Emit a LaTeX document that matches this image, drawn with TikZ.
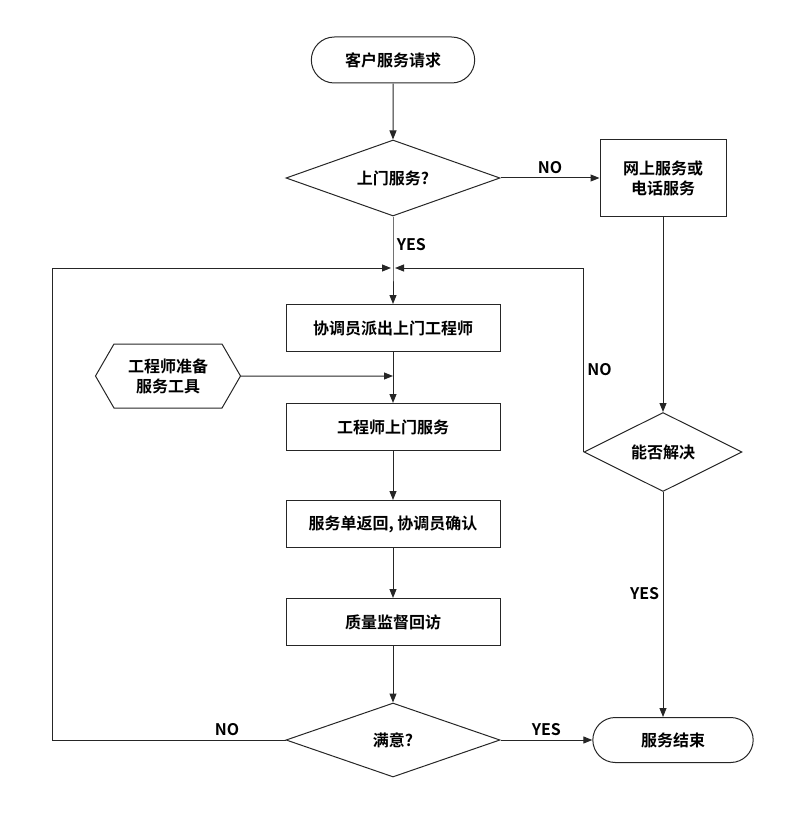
\documentclass[tikz,border=0pt]{standalone}
\usepackage{fontspec}
\setmainfont{Noto Sans CJK SC}[BoldFont={Noto Sans CJK SC Bold}]
\usepackage{tikz}
\usetikzlibrary{shapes.geometric,shapes.misc,shapes.symbols,arrows.meta}
\tikzset{
box/.style={rectangle,draw,minimum width=214pt,minimum height=47pt,align=center,font=\bfseries\fontsize{16}{20}\selectfont},
term/.style={rounded rectangle,draw,minimum height=46pt,font=\bfseries\fontsize{16}{20}\selectfont},
dec/.style={diamond,draw,aspect=2.8,inner sep=0pt,font=\bfseries\fontsize{16}{20}\selectfont},
prep/.style={signal,signal to=east and west,signal pointer angle=120,draw,minimum height=64pt,minimum width=145pt,inner xsep=2pt,align=center,font=\bfseries\fontsize{16}{20}\selectfont},
lbl/.style={font=\bfseries\fontsize{16}{20}\selectfont},
arr/.style={-{Triangle[length=9pt,width=7pt]}},
}
\begin{document}
\begin{tikzpicture}[x=1pt,y=-1pt,line width=1pt,draw=black!85]
\useasboundingbox (0,0) rectangle (800,813);
\node[term,minimum width=170pt] (req) at (393,60) {客户服务请求};
\node[dec,minimum width=214pt,minimum height=76pt] (onsite) at (393,178) {上门服务?};
\node[box,minimum width=126pt,minimum height=76pt] (online) at (663,178) {网上服务或\\电话服务};
\coordinate (join) at (393,268);
\node[box] (dispatch) at (393,328) {协调员派出上门工程师};
\node[prep] (tools) at (168,376) {工程师准备\\服务工具};
\node[box] (visit) at (393,427) {工程师上门服务};
\node[box] (sheet) at (393,524) {服务单返回, 协调员确认};
\node[box] (check) at (393,622) {质量监督回访};
\node[dec,minimum width=214pt,minimum height=74pt] (ok) at (393,740) {满意?};
\node[term,minimum width=167pt,minimum height=45pt] (done) at (673,740) {服务结束};
\node[dec,minimum width=158pt,minimum height=79pt] (solve) at (663,452) {能否解决};
% the connectors
\draw[arr] (req) -- (onsite);
\draw[arr] (onsite) -- node[lbl,above,pos=0.5]{NO} (online);
\draw[arr] (onsite) -- node[lbl,right,pos=0.55]{YES} (join) -- (dispatch);
\draw[arr] (online.south -| solve.north) -- (solve);
\draw[arr] (tools) -- (tools -| visit.north);
\draw[arr] (dispatch) -- (visit);
\draw[arr] (visit) -- (sheet);
\draw[arr] (sheet) -- (check);
\draw[arr] (check) -- (ok);
\draw[arr] (ok) -- node[lbl,above]{YES} (done);
\draw[arr] (solve) -- node[lbl,left,pos=0.45]{YES} (solve |- done.north);
\draw[arr] (solve.west) -- node[lbl,right,pos=0.45]{NO} (solve.west |- join) -- ([xshift=2pt]join);
\draw[arr] (ok.west) -- node[lbl,above,pos=0.25]{NO} (52,740) -- (52,268) -- ([xshift=-2pt]join);
\end{tikzpicture}
\end{document}
